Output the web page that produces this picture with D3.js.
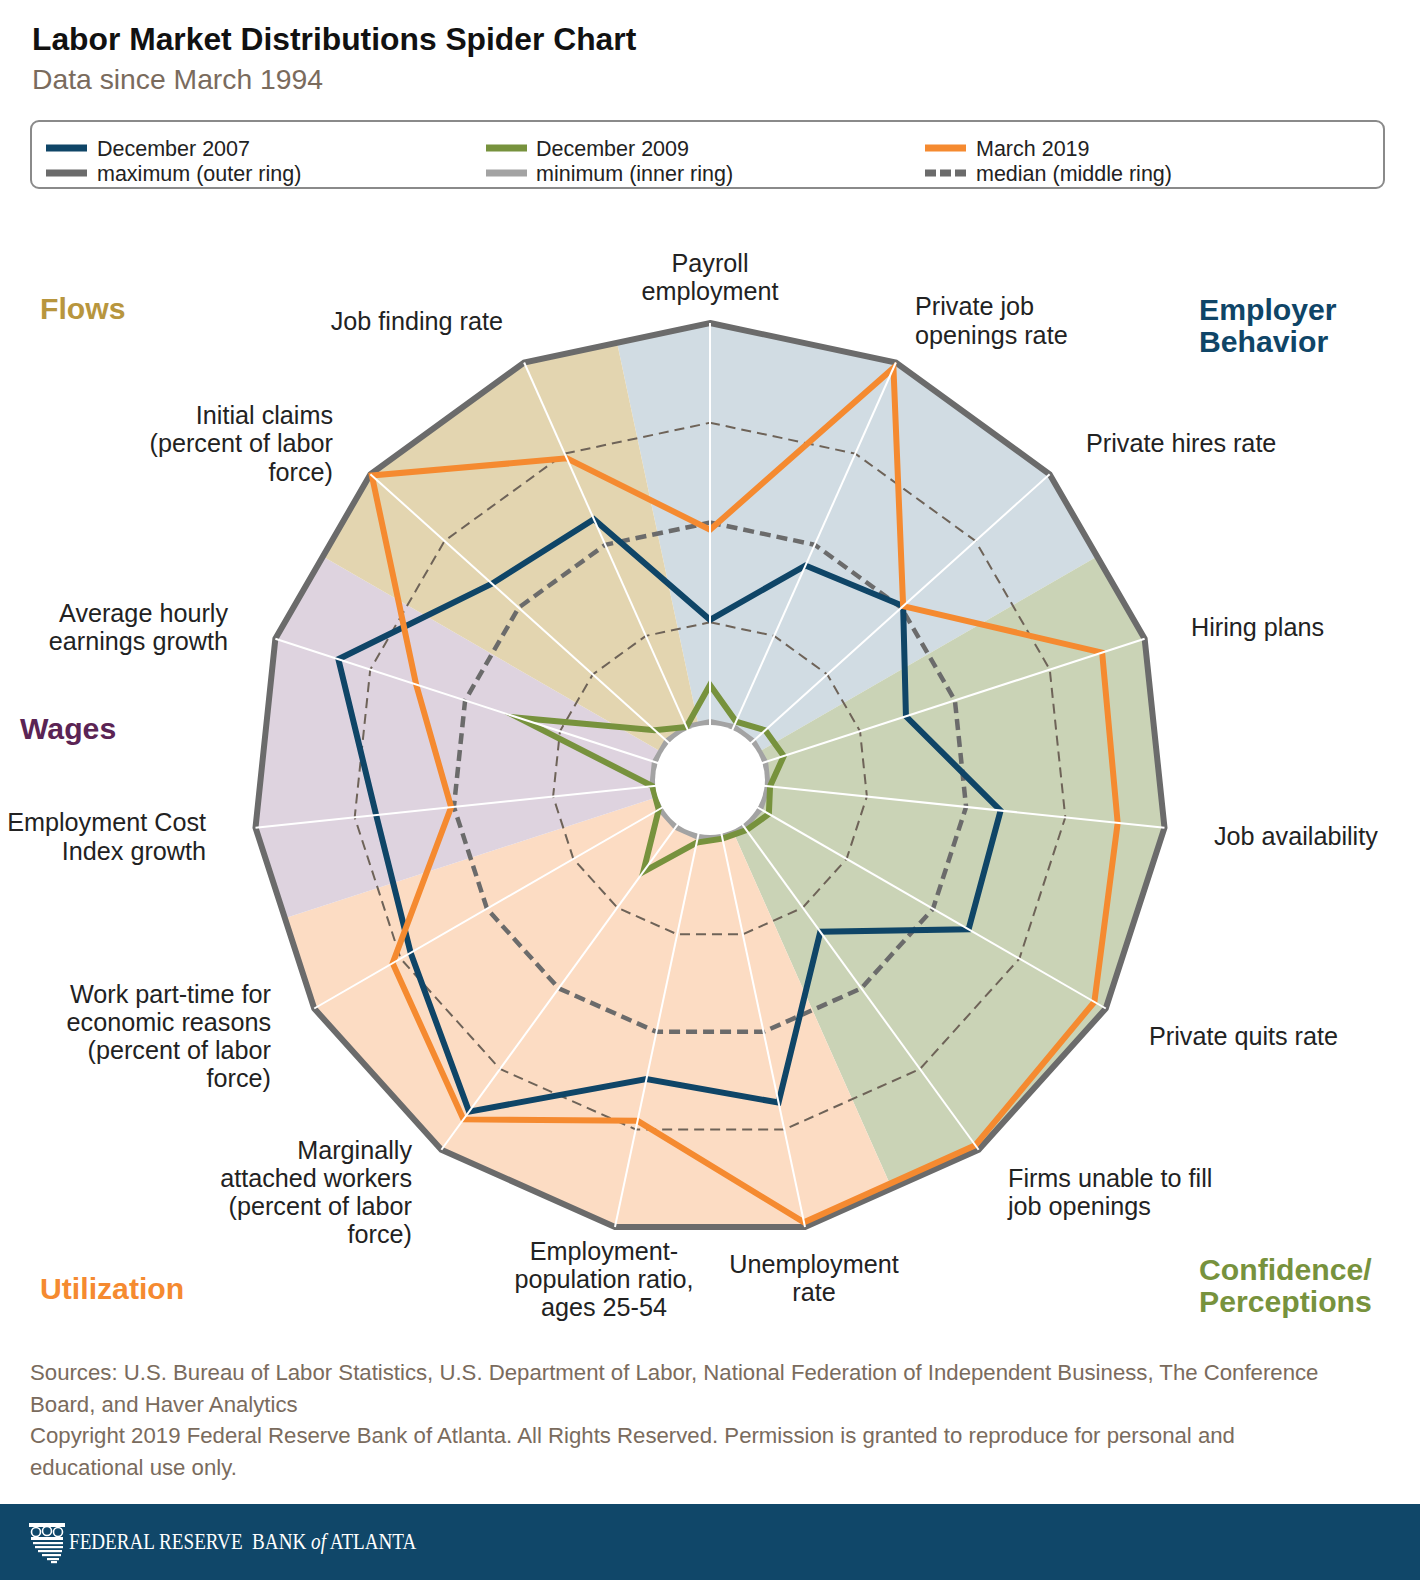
<!DOCTYPE html>
<html><head><meta charset="utf-8">
<script src="https://cdn.jsdelivr.net/npm/d3@7"></script>
<style>
body{margin:0;background:#fff;}
svg{display:block;font-family:"Liberation Sans",Arial,Helvetica,sans-serif;}
</style>
</head><body>
<svg id="chart" width="1420" height="1580"></svg>
<script>
// ---------------- DATA ----------------
const categories = [
  "Payroll employment",
  "Private job openings rate",
  "Private hires rate",
  "Hiring plans",
  "Job availability",
  "Private quits rate",
  "Firms unable to fill job openings",
  "Unemployment rate",
  "Employment-population ratio, ages 25-54",
  "Marginally attached workers (percent of labor force)",
  "Work part-time for economic reasons (percent of labor force)",
  "Employment Cost Index growth",
  "Average hourly earnings growth",
  "Initial claims (percent of labor force)",
  "Job finding rate"
];
// Values are positions between the historical minimum (0, inner ring) and maximum (1, outer ring)
const dec2007 = [0.256, 0.443, 0.506, 0.371, 0.587, 0.603, 0.325, 0.681, 0.621, 0.882, 0.721, 0.696, 0.834, 0.590, 0.570];
const dec2009 = [0.093, 0.015, 0.041, 0.049, 0.006, 0.025, 0.010, 0.005, 0.015, 0.139, 0.003, 0.000, 0.360, 0.041, 0.000];
const mar2019 = [0.482, 0.985, 0.506, 0.888, 0.882, 0.967, 0.986, 0.988, 0.728, 0.906, 0.773, 0.507, 0.629, 0.995, 0.737];
const seriesNames = ["December 2007", "December 2009", "March 2019"];
const ringNames = ["maximum (outer ring)", "minimum (inner ring)", "median (middle ring)"];
const ringLevels = [0, 0.25, 0.5, 0.75, 1];
const groupNames = ["Employer Behavior", "Confidence/Perceptions", "Utilization", "Wages", "Flows"];
const groupFirstAxis = [0, 3, 7, 11, 13];
const groupAxisCount = [3, 4, 4, 2, 2];

// ---------------- LAYOUT / STYLE ----------------
const W = 1420, H = 1580;
const cx = 710, cy = 780, rIn = 58, rOut = 457;
const seriesColors = ["#0f4567", "#77923d", "#f58a30"];
const groupFills = ["#d1dce3", "#cad3b6", "#fcdcc3", "#ded3df", "#e3d5b0"];
const groupTextColors = ["#0f4567", "#77923d", "#f58a30", "#5b2454", "#b8963e"];
const groupLabelLayout = [
  {x:1199, y:[320,352], lines:["Employer","Behavior"]},
  {x:1199, y:[1280,1312], lines:["Confidence/","Perceptions"]},
  {x:40, y:[1299], lines:["Utilization"]},
  {x:20, y:[739], lines:["Wages"]},
  {x:40, y:[319], lines:["Flows"]}
];
const axisLabelLayout = [
  {a:"middle", x:710, y:[272,300], lines:["Payroll","employment"]},
  {a:"start", x:915, y:[315,344], lines:["Private job","openings rate"]},
  {a:"start", x:1086, y:[452], lines:["Private hires rate"]},
  {a:"start", x:1191, y:[636], lines:["Hiring plans"]},
  {a:"start", x:1214, y:[845], lines:["Job availability"]},
  {a:"start", x:1149, y:[1045], lines:["Private quits rate"]},
  {a:"start", x:1008, y:[1187,1215], lines:["Firms unable to fill","job openings"]},
  {a:"middle", x:814, y:[1273,1301], lines:["Unemployment","rate"]},
  {a:"middle", x:604, y:[1260,1288,1316], lines:["Employment-","population ratio,","ages 25-54"]},
  {a:"end", x:412, y:[1159,1187,1215,1243], lines:["Marginally","attached workers","(percent of labor","force)"]},
  {a:"end", x:271, y:[1003,1031,1059,1087], lines:["Work part-time for","economic reasons","(percent of labor","force)"]},
  {a:"end", x:206, y:[831,860], lines:["Employment Cost","Index growth"]},
  {a:"end", x:228, y:[622,650], lines:["Average hourly","earnings growth"]},
  {a:"end", x:333, y:[424,452,481], lines:["Initial claims","(percent of labor","force)"]},
  {a:"end", x:503, y:[330], lines:["Job finding rate"]}
];

const svg = d3.select("#chart");
const n = categories.length;
const step = 2 * Math.PI / n;
const angleOf = i => i * step;
const r = d3.scaleLinear().domain([0, 1]).range([rIn, rOut]);
const radial = d3.lineRadial()
  .angle((d, i) => angleOf(i))
  .radius(d => r(d))
  .curve(d3.curveLinearClosed);
const ringPath = lvl => radial(categories.map(() => lvl));

// Title
svg.append("text").attr("x", 32).attr("y", 50)
  .attr("font-size", 31.8).attr("font-weight", "bold").attr("fill", "#111")
  .text("Labor Market Distributions Spider Chart");
svg.append("text").attr("x", 32).attr("y", 88.5)
  .attr("font-size", 28.3).attr("fill", "#7a6b5d")
  .text("Data since March 1994");

// Legend
svg.append("rect").attr("x", 31).attr("y", 121).attr("width", 1353).attr("height", 67)
  .attr("rx", 8).attr("fill", "none").attr("stroke", "#8a8a8a").attr("stroke-width", 2);
const legendCols = [{sx:46, tx:97}, {sx:486, tx:536}, {sx:925, tx:976}];
const legendRows = [148, 173];
const legendItems = [
  {name: seriesNames[0], col:0, row:0, color: seriesColors[0], dash:null},
  {name: seriesNames[1], col:1, row:0, color: seriesColors[1], dash:null},
  {name: seriesNames[2], col:2, row:0, color: seriesColors[2], dash:null},
  {name: ringNames[0], col:0, row:1, color:"#6b6b6b", dash:null},
  {name: ringNames[1], col:1, row:1, color:"#a3a3a3", dash:null},
  {name: ringNames[2], col:2, row:1, color:"#6b6b6b", dash:"11,4"}
];
legendItems.forEach(it => {
  const c = legendCols[it.col], y = legendRows[it.row];
  svg.append("line").attr("x1", c.sx).attr("x2", c.sx + 41).attr("y1", y).attr("y2", y)
    .attr("stroke", it.color).attr("stroke-width", 7)
    .attr("stroke-dasharray", it.dash);
  svg.append("text").attr("x", c.tx).attr("y", y + 7.5)
    .attr("font-size", 21.5).attr("fill", "#222").text(it.name);
});

// Chart group
const g = svg.append("g").attr("transform", `translate(${cx},${cy})`);
const defs = svg.append("defs");
defs.append("clipPath").attr("id", "outerClip")
  .append("path").attr("d", ringPath(1));

const arc = d3.arc().innerRadius(0).outerRadius(rOut + 20);
const wedges = g.append("g").attr("clip-path", "url(#outerClip)");
groupNames.forEach((nm, k) => {
  wedges.append("path")
    .attr("d", arc({startAngle: angleOf(groupFirstAxis[k]) - step / 2,
                    endAngle: angleOf(groupFirstAxis[k] + groupAxisCount[k]) - step / 2}))
    .attr("fill", groupFills[k]);
});

// Rings
g.append("path").attr("d", ringPath(0.25)).attr("fill", "none")
  .attr("stroke", "#6e6358").attr("stroke-width", 2).attr("stroke-dasharray", "10,6");
g.append("path").attr("d", ringPath(0.75)).attr("fill", "none")
  .attr("stroke", "#6e6358").attr("stroke-width", 2).attr("stroke-dasharray", "10,6");
g.append("path").attr("d", ringPath(0.5)).attr("fill", "none")
  .attr("stroke", "#6b6b6b").attr("stroke-width", 4.5).attr("stroke-dasharray", "11,6");
g.append("path").attr("d", ringPath(1)).attr("fill", "none")
  .attr("stroke", "#6b6b6b").attr("stroke-width", 6).attr("stroke-linejoin", "miter");
g.append("path").attr("d", ringPath(0)).attr("fill", "#fff")
  .attr("stroke", "#a3a3a3").attr("stroke-width", 6);

// Series
[dec2007, dec2009, mar2019].forEach((vals, k) => {
  g.append("path").attr("d", radial(vals)).attr("fill", "none")
    .attr("stroke", seriesColors[k]).attr("stroke-width", 6)
    .attr("stroke-linejoin", "miter").attr("stroke-miterlimit", 6);
});

// Axis spokes (white, on top)
g.selectAll("line.spoke").data(categories).enter().append("line")
  .attr("class", "spoke")
  .attr("x1", (d, i) => Math.sin(angleOf(i)) * (rIn - 4))
  .attr("y1", (d, i) => -Math.cos(angleOf(i)) * (rIn - 4))
  .attr("x2", (d, i) => Math.sin(angleOf(i)) * rOut)
  .attr("y2", (d, i) => -Math.cos(angleOf(i)) * rOut)
  .attr("stroke", "#fff").attr("stroke-width", 2);
g.append("circle").attr("r", rIn - 3).attr("fill", "#fff");

// Axis labels
categories.forEach((c, i) => {
  const L = axisLabelLayout[i];
  const t = svg.append("text").attr("font-size", 25.2).attr("fill", "#222")
    .attr("text-anchor", L.a);
  L.lines.forEach((ln, j) => t.append("tspan").attr("x", L.x).attr("y", L.y[j]).text(ln));
});

// Group labels
groupNames.forEach((nm, k) => {
  const L = groupLabelLayout[k];
  const t = svg.append("text").attr("font-size", 30.2).attr("font-weight", "bold")
    .attr("fill", groupTextColors[k]);
  L.lines.forEach((ln, j) => t.append("tspan").attr("x", L.x).attr("y", L.y[j]).text(ln));
});

// Sources
const notes = [
  "Sources: U.S. Bureau of Labor Statistics, U.S. Department of Labor, National Federation of Independent Business, The Conference",
  "Board, and Haver Analytics",
  "Copyright 2019 Federal Reserve Bank of Atlanta. All Rights Reserved. Permission is granted to reproduce for personal and",
  "educational use only."
];
const noteY = [1380, 1411.5, 1443, 1475];
notes.forEach((s, i) => svg.append("text").attr("x", 30).attr("y", noteY[i])
  .attr("font-size", 22.2).attr("fill", "#7a6b5d").text(s));

// Footer bar
svg.append("rect").attr("x", 0).attr("y", 1504).attr("width", W).attr("height", H - 1504)
  .attr("fill", "#104769");
const logo = svg.append("g").attr("fill", "#fff");
logo.append("rect").attr("x", 29).attr("y", 1523).attr("width", 36).attr("height", 4);
[[36,1532],[47,1531],[58,1532]].forEach(p => {
  logo.append("circle").attr("cx", p[0]).attr("cy", p[1]).attr("r", 4.5)
    .attr("fill", "none").attr("stroke", "#fff").attr("stroke-width", 1.6);
});
logo.append("rect").attr("x", 31).attr("y", 1537).attr("width", 32).attr("height", 3);
[[33,1542,30],[35,1546,28],[38,1550,24],[42,1554,19],[47,1558,12],[51,1561,6]].forEach(b => {
  logo.append("rect").attr("x", b[0]).attr("y", b[1]).attr("width", b[2]).attr("height", 2.2);
});
const lt = svg.append("g").attr("transform", "translate(69,1549) scale(0.85,1)")
  .append("text").attr("font-family", "'Liberation Serif','Times New Roman',serif")
  .attr("font-size", 22.5).attr("fill", "#fff");
lt.append("tspan").text("FEDERAL RESERVE\u00a0 BANK ");
lt.append("tspan").attr("font-style", "italic").text("of");
lt.append("tspan").text(" ATLANTA");
</script>
</body></html>
